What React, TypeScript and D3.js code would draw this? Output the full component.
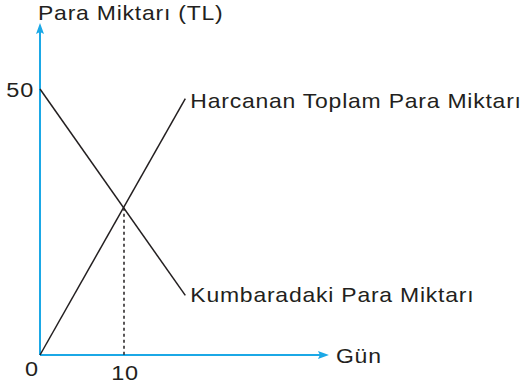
import React from "react";
import * as d3 from "d3";

const days = [0, 17.3];
const kumbaraValues = [50, 11.2];
const harcananValues = [0, 48.2];
const crossDay = 10;
const crossValue = 27.7;
const xTickDays = [0, 10];
const xTickLabels = ["0", "10"];
const yTickValues = [50];
const yTickLabels = ["50"];
const xAxisMax = 34.4;
const yAxisMax = 62.4;
const title = "Para Miktarı (TL)";
const xTitle = "Gün";
const harcananLabel = "Harcanan Toplam Para Miktarı";
const kumbaraLabel = "Kumbaradaki Para Miktarı";

const BLUE = "#1ba8e6";
const INK = "#231f20";
const FONT = "'Liberation Sans', Arial, Helvetica, sans-serif";
const SX = 1.12;

function Label({
  x,
  y,
  children,
  anchor = "start",
  size = 20.5,
}: {
  x: number;
  y: number;
  children: React.ReactNode;
  anchor?: "start" | "middle" | "end";
  size?: number;
}) {
  return (
    <g transform={`translate(${x},${y}) scale(${SX},1)`}>
      <text
        x={0}
        y={0}
        textAnchor={anchor}
        style={{ fontFamily: FONT, fontSize: size, letterSpacing: "0.7px", fill: INK }}
      >
        {children}
      </text>
    </g>
  );
}

export default function App() {
  const x = d3.scaleLinear().domain([0, 10]).range([40, 124]);
  const y = d3.scaleLinear().domain([0, 50]).range([355, 89]);
  const line = d3
    .line<[number, number]>()
    .x((d) => x(d[0]))
    .y((d) => y(d[1]));
  const kumbara = days.map((d, i) => [d, kumbaraValues[i]] as [number, number]);
  const harcanan = days.map((d, i) => [d, harcananValues[i]] as [number, number]);
  const x0 = x(0);
  const y0 = y(0);
  const xEnd = x(xAxisMax);
  const yEnd = y(yAxisMax);
  const kEnd = kumbara[kumbara.length - 1];
  const hEnd = harcanan[harcanan.length - 1];
  return (
    <svg
      width={529}
      height={387}
      style={{ position: "absolute", left: 0, top: 0, background: "#fff" }}
    >
      <line x1={x0} y1={y0} x2={xEnd - 8} y2={y0} stroke={BLUE} strokeWidth={2} />
      <line x1={x0} y1={y0} x2={x0} y2={yEnd + 8} stroke={BLUE} strokeWidth={2} />
      <path
        d={`M${xEnd},${y0} L${xEnd - 11},${y0 - 4} L${xEnd - 9},${y0} L${xEnd - 11},${y0 + 4} Z`}
        fill={BLUE}
      />
      <path
        d={`M${x0},${yEnd} L${x0 - 4},${yEnd + 11} L${x0},${yEnd + 9} L${x0 + 4},${yEnd + 11} Z`}
        fill={BLUE}
      />
      <line
        x1={x(crossDay)}
        y1={y(crossValue)}
        x2={x(crossDay)}
        y2={y0}
        stroke={INK}
        strokeWidth={1.5}
        strokeDasharray="3,3"
      />
      <path d={line(kumbara) ?? ""} fill="none" stroke={INK} strokeWidth={1.5} />
      <path d={line(harcanan) ?? ""} fill="none" stroke={INK} strokeWidth={1.5} />
      <Label x={38} y={19.5}>{title}</Label>
      <Label x={xEnd + 7} y={y0 + 7.5}>{xTitle}</Label>
      {yTickValues.map((v, i) => (
        <Label key={v} x={x0 - 6} y={y(v) + 8} anchor="end" size={21}>
          {yTickLabels[i]}
        </Label>
      ))}
      {xTickDays.map((d, i) => (
        <Label
          key={d}
          x={d === 0 ? x(d) - 8 : x(d) + 1}
          y={d === 0 ? y0 + 21 : y0 + 25}
          anchor="middle"
          size={21}
        >
          {xTickLabels[i]}
        </Label>
      ))}
      <Label x={x(hEnd[0]) + 5} y={y(hEnd[1]) + 9}>{harcananLabel}</Label>
      <Label x={x(kEnd[0]) + 5} y={y(kEnd[1]) + 7}>{kumbaraLabel}</Label>
    </svg>
  );
}
